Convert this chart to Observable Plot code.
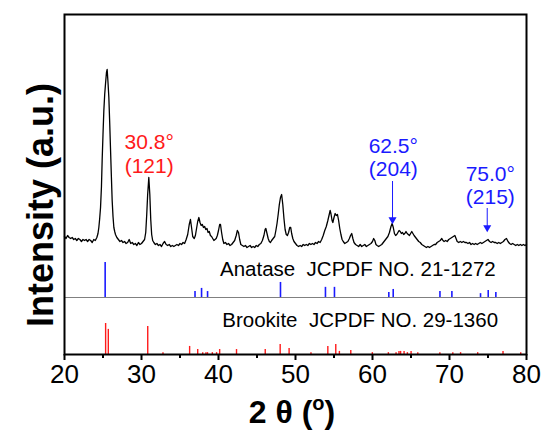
<!DOCTYPE html>
<html>
<head>
<meta charset="utf-8">
<script src="https://cdn.jsdelivr.net/npm/d3@7"></script>
<script src="https://cdn.jsdelivr.net/npm/@observablehq/plot@0.6"></script>
<style>
  html, body { margin: 0; padding: 0; background: #fff; }
  #chart svg { display: block; }
</style>
</head>
<body>
<div id="chart"></div>
<script>
// Measured XRD trace: [2θ (deg), intensity (a.u., offset stacked)]
const trace = [
  [20.0,118],[20.2,116],[20.4,119],[20.6,117],[20.8,116],[21.0,117],[21.2,115],[21.4,116],[21.6,114],[21.8,116],
  [22.0,115],[22.2,113],[22.4,115],[22.6,114],[22.8,115],[23.0,113],[23.2,115],[23.4,114],[23.6,112],[23.8,115],
  [24.0,114],[24.2,117],[24.35,121],[24.46,127],[24.57,136],[24.68,147],[24.8,168],[24.89,194],[25.0,220],[25.11,244],
  [25.22,260],[25.33,271],[25.45,282],[25.54,285],[25.65,272],[25.76,257],[25.87,232],[25.97,207],[26.08,180],[26.19,154],
  [26.3,138],[26.41,127],[26.52,123],[26.62,120],[26.8,117],[27.0,115],[27.2,113],[27.4,114],[27.6,112],[27.8,113],
  [28.0,111],[28.2,112],[28.4,115],[28.6,111],[28.8,112],[29.0,110],[29.2,111],[29.4,109],[29.6,112],[29.8,110],
  [30.0,111],[30.2,113],[30.4,115],[30.55,122],[30.68,140],[30.8,160],[30.95,177],[31.08,160],[31.2,135],[31.32,120],
  [31.45,114],[31.6,112],[31.8,110],[32.0,111],[32.2,109],[32.4,110],[32.6,108],[32.8,111],[33.0,113],[33.2,110],
  [33.4,109],[33.6,110],[33.8,108],[34.0,109],[34.2,108],[34.4,109],[34.6,110],[34.8,109],[35.0,111],[35.2,110],
  [35.4,112],[35.6,111],[35.8,115],[36.0,120],[36.2,130],[36.36,135],[36.5,127],[36.65,118],[36.85,116],[37.0,119],
  [37.15,126],[37.3,133],[37.45,137],[37.6,132],[37.75,129],[37.9,130],[38.05,127],[38.2,128],[38.35,125],[38.5,126],
  [38.65,122],[38.8,123],[38.95,119],[39.1,118],[39.25,116],[39.4,114],[39.55,115],[39.7,116],[39.85,119],[40.0,124],
  [40.15,130],[40.26,130],[40.4,122],[40.55,115],[40.7,111],[40.9,112],[41.1,110],[41.3,111],[41.5,109],[41.7,110],
  [41.9,112],[42.1,114],[42.3,119],[42.45,124],[42.6,122],[42.75,115],[42.9,110],[43.1,109],[43.3,108],[43.5,109],
  [43.7,107],[43.9,108],[44.1,109],[44.3,107],[44.5,108],[44.7,107],[44.9,109],[45.1,108],[45.3,110],[45.5,111],
  [45.7,114],[45.9,119],[46.05,125],[46.15,126],[46.3,121],[46.45,116],[46.6,113],[46.75,112],[46.9,114],[47.1,116],
  [47.3,118],[47.45,124],[47.6,131],[47.75,140],[47.9,150],[48.05,157],[48.2,160],[48.35,150],[48.5,136],[48.65,125],
  [48.8,120],[48.95,119],[49.1,122],[49.25,127],[49.38,127],[49.5,121],[49.65,116],[49.8,113],[50.0,111],[50.2,109],
  [50.4,108],[50.6,109],[50.8,108],[51.0,110],[51.2,109],[51.4,110],[51.6,109],[51.8,111],[52.0,110],[52.2,111],
  [52.4,110],[52.6,112],[52.8,111],[53.0,113],[53.2,112],[53.4,115],[53.6,119],[53.8,124],[54.0,128],[54.2,134],
  [54.35,139],[54.5,144],[54.6,141],[54.75,134],[54.85,132],[55.0,137],[55.15,141],[55.3,139],[55.45,140],[55.6,134],
  [55.75,126],[55.9,120],[56.05,115],[56.2,113],[56.4,111],[56.6,112],[56.8,113],[57.0,116],[57.15,119],[57.3,121],
  [57.45,116],[57.6,112],[57.8,110],[58.0,109],[58.2,108],[58.4,110],[58.6,108],[58.8,109],[59.0,110],[59.2,108],
  [59.4,109],[59.6,110],[59.8,111],[60.0,113],[60.15,116],[60.3,114],[60.45,110],[60.6,109],[60.8,108],[61.0,109],
  [61.2,110],[61.4,112],[61.6,114],[61.8,116],[62.0,118],[62.2,122],[62.4,128],[62.55,131],[62.7,127],[62.85,121],
  [63.0,119],[63.15,120],[63.3,122],[63.45,124],[63.6,123],[63.75,121],[63.9,122],[64.05,120],[64.2,121],[64.35,123],
  [64.5,121],[64.65,120],[64.8,119],[64.95,121],[65.1,123],[65.25,121],[65.4,119],[65.6,117],[65.8,115],[66.0,113],
  [66.2,112],[66.4,110],[66.6,109],[66.8,108],[67.0,107],[67.2,108],[67.4,107],[67.6,108],[67.8,109],[68.0,110],
  [68.2,110],[68.4,112],[68.6,113],[68.8,114],[69.0,116],[69.15,114],[69.3,113],[69.5,114],[69.7,113],[69.9,115],
  [70.1,116],[70.3,117],[70.5,118],[70.7,119],[70.85,116],[71.0,113],[71.2,112],[71.4,113],[71.6,112],[71.8,113],
  [72.0,112],[72.2,112],[72.4,111],[72.6,112],[72.8,110],[73.0,111],[73.2,110],[73.4,111],[73.6,110],[73.8,111],
  [74.0,112],[74.2,111],[74.4,112],[74.6,113],[74.8,114],[75.0,115],[75.2,113],[75.4,112],[75.6,113],[75.8,112],
  [76.0,112],[76.2,111],[76.4,112],[76.6,111],[76.8,112],[77.0,113],[77.2,115],[77.4,116],[77.6,113],[77.8,111],
  [78.0,110],[78.2,111],[78.4,110],[78.6,109],[78.8,110],[79.0,109],[79.2,110],[79.4,109],[79.6,110],[79.8,109],[80.0,110]
];

// Anatase JCPDF 21-1272 reference lines
const anataseAngles = [25.28, 36.95, 37.80, 38.58, 48.05, 53.89, 55.06, 62.12, 62.69, 68.76, 70.31, 74.03, 75.03, 76.02];
const anataseIntensity = [100, 17, 26, 17, 43, 29, 29, 14, 23, 17, 17, 11, 20, 14];

// Brookite JCPDF 29-1360 reference lines
const brookiteAngles = [25.34, 25.69, 30.81, 32.79, 36.25, 37.30, 37.95, 38.37, 38.57, 39.20, 39.75, 40.15, 42.34, 46.07,
  48.01, 49.17, 52.01, 54.20, 55.23, 55.70, 57.18, 59.98, 62.06, 63.06, 63.44, 63.65, 64.10, 64.53, 65.01, 65.88,
  68.75, 70.43, 71.44, 73.66, 76.95, 79.25];
const brookiteIntensity = [100, 81, 90, 6, 26, 16, 6, 6, 6, 6, 6, 16, 16, 16,
  32, 19, 6, 26, 32, 10, 13, 6, 6, 6, 10, 10, 10, 6, 10, 6,
  6, 6, 6, 6, 10, 6];

const xTicks = [20, 30, 40, 50, 60, 70, 80];
const xMinorTicks = [25, 35, 45, 55, 65, 75];

// peak annotations
const peakLabels = [
  {x: 31.0, l1: "30.8°", l2: "(121)", c: "red", y1: 206, y2: 182},
  {x: 62.7, l1: "62.5°", l2: "(204)", c: "blue", y1: 202, y2: 179},
  {x: 75.3, l1: "75.0°", l2: "(215)", c: "blue", y1: 174, y2: 151}
];
const arrows = [
  {x: 62.6, top: 173, tip: 132},
  {x: 74.9, top: 146, tip: 124}
];
const refLabels = [
  {x: 58.1, y: 79, text: "Anatase  JCPDF NO. 21-1272"},
  {x: 58.4, y: 28, text: "Brookite  JCPDF NO. 29-1360"}
];

const anataseBase = 57, anataseScale = 0.35;
const brookiteBase = 0, brookiteScale = 0.31;

const RED = "#ff1a1a", BLUE = "#1a1aff";
const font = "'Liberation Sans', Arial, sans-serif";

const anatase = anataseAngles.map((a, i) => ({a, y1: anataseBase, y2: anataseBase + anataseIntensity[i] * anataseScale}));
const brookite = brookiteAngles.map((a, i) => ({a, y1: brookiteBase, y2: brookiteBase + brookiteIntensity[i] * brookiteScale}));

const plot = Plot.plot({
  width: 541,
  height: 432,
  marginLeft: 64,
  marginRight: 15,
  marginTop: 14,
  marginBottom: 78,
  style: {fontFamily: font, background: "#fff"},
  x: {domain: [20, 80]},
  y: {domain: [0, 340], axis: null},
  marks: [
    Plot.ruleY([anataseBase], {stroke: "#808080", strokeWidth: 1}),
    Plot.ruleX(anatase, {x: "a", y1: "y1", y2: "y2", stroke: BLUE, strokeWidth: 1.6}),
    Plot.ruleX(brookite, {x: "a", y1: "y1", y2: "y2", stroke: RED, strokeWidth: 1.4}),
    Plot.line(trace, {x: d => d[0], y: d => d[1], stroke: "#000", strokeWidth: 1.3}),
    Plot.text(refLabels, {x: "x", y: "y", text: "text", fontSize: 20.5, textAnchor: "middle", lineAnchor: "bottom", fill: "#000"}),
    Plot.text(peakLabels, {x: "x", y: "y1", text: "l1", fill: d => d.c === "red" ? RED : BLUE, fontSize: 21, textAnchor: "middle", lineAnchor: "bottom"}),
    Plot.text(peakLabels, {x: "x", y: "y2", text: "l2", fill: d => d.c === "red" ? RED : BLUE, fontSize: 21, textAnchor: "middle", lineAnchor: "bottom"}),
    Plot.ruleX(arrows, {x: "x", y1: "top", y2: d => d.tip + 4, stroke: BLUE, strokeWidth: 1}),
    Plot.dot(arrows, {x: "x", y: d => d.tip + 3, symbol: "triangle", rotate: 180, r: 3, fill: BLUE, stroke: "none"}),
    Plot.frame({stroke: "#000", strokeWidth: 2}),
    Plot.axisX(xTicks, {tickSize: 6, strokeWidth: 2, tickPadding: 4, fontSize: 26, label: null, anchor: "bottom"}),
    Plot.axisX(xMinorTicks, {tickSize: 4, strokeWidth: 2, text: null, label: null, anchor: "bottom"})
  ]
});

document.getElementById("chart").appendChild(plot);

const svg = d3.select(plot);
const xs = svg.append("text")
  .attr("x", 292).attr("y", 423)
  .attr("text-anchor", "middle")
  .attr("font-family", font)
  .attr("font-weight", "bold")
  .attr("font-size", 32)
  .attr("fill", "#000");
xs.append("tspan").text("2 θ (");
xs.append("tspan").attr("font-size", 20).attr("dy", -13).text("o");
xs.append("tspan").attr("dy", 13).text(")");

svg.append("text")
  .attr("transform", "translate(53,205) rotate(-90)")
  .attr("text-anchor", "middle")
  .attr("font-family", font)
  .attr("font-weight", "bold")
  .attr("font-size", 36)
  .attr("fill", "#000")
  .text("Intensity (a.u.)");
</script>
</body>
</html>
